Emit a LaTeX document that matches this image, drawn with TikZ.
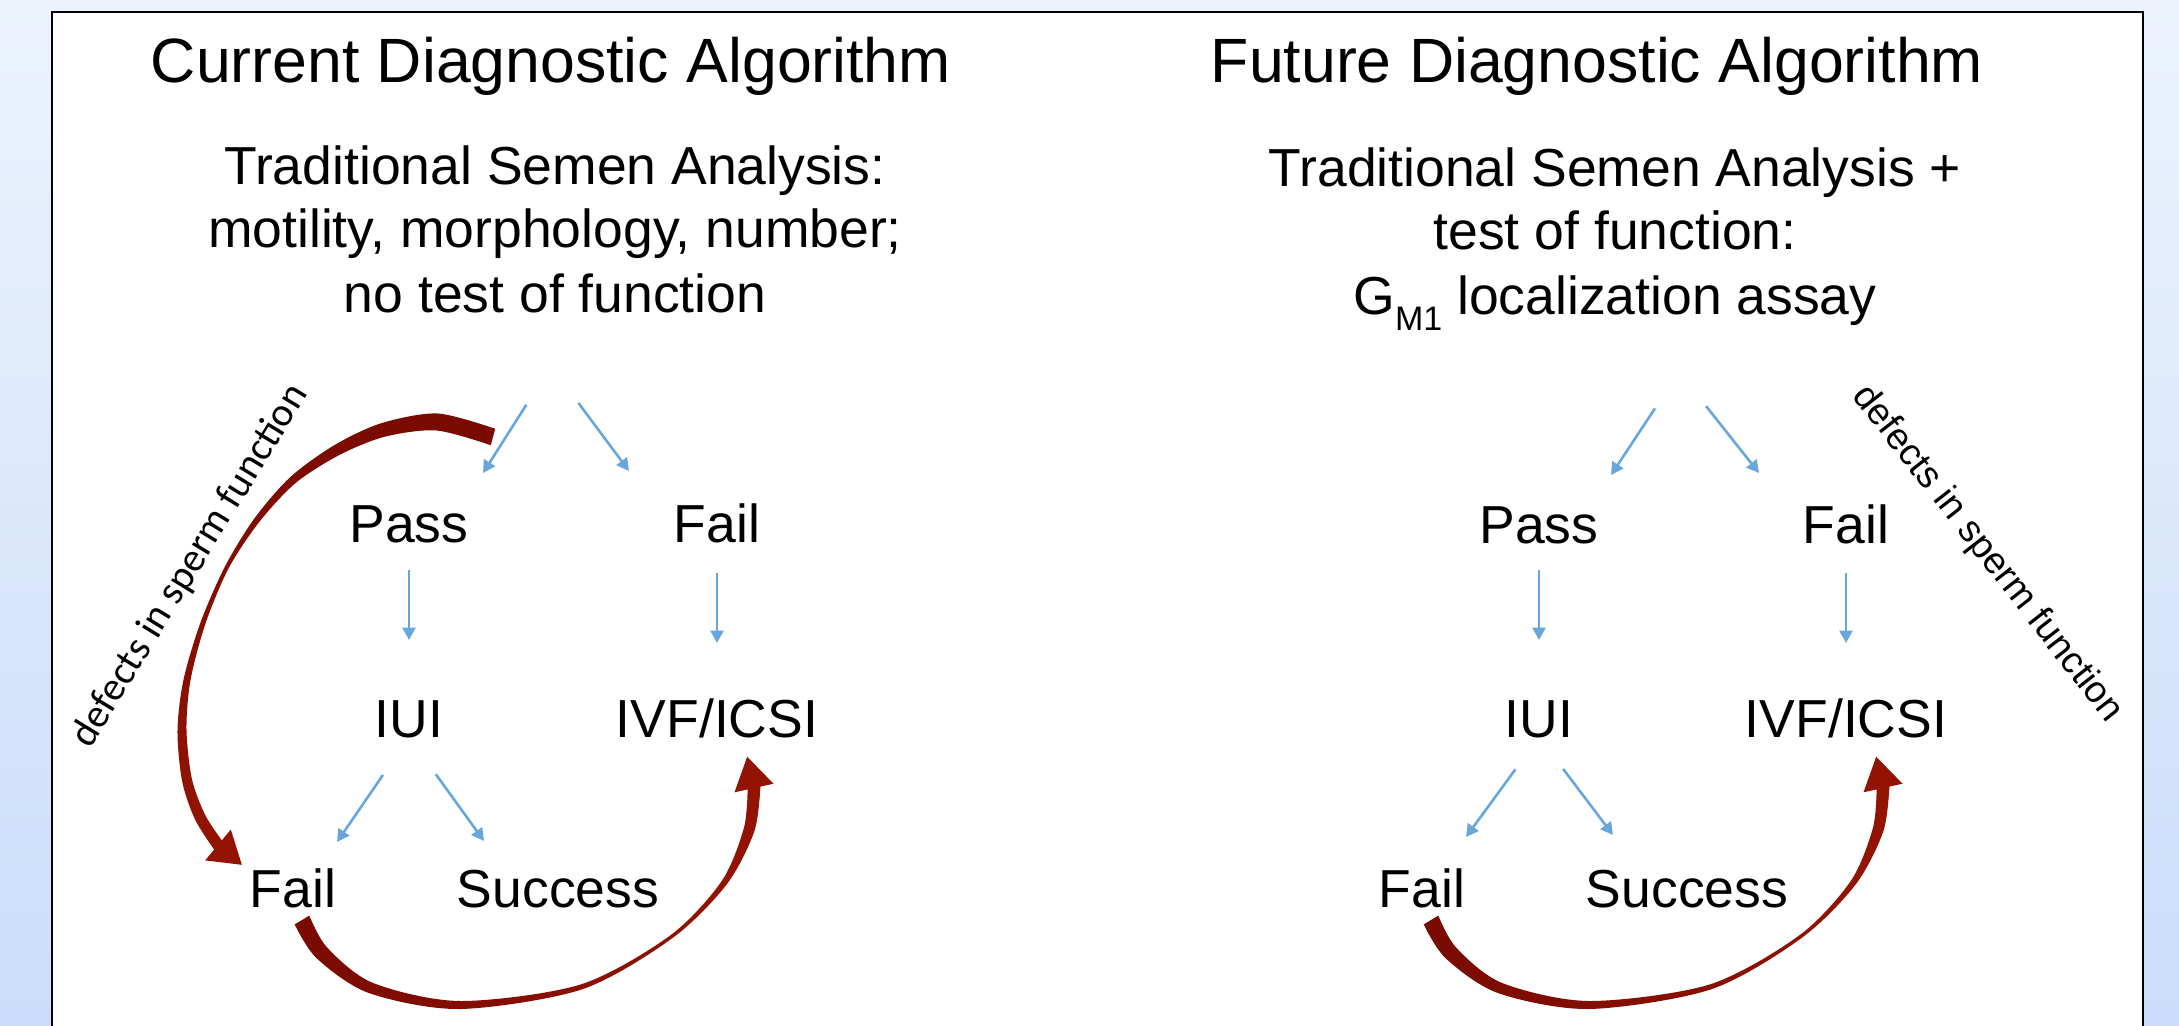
\documentclass[tikz,border=0pt]{standalone}
\usepackage{fontspec}
\setmainfont{Liberation Sans}
\newfontfamily\calibfont{Carlito}
\usetikzlibrary{arrows.meta}
\definecolor{bgtop}{RGB}{236,243,253}
\definecolor{bgbot}{RGB}{202,221,250}
\definecolor{arrowblue}{RGB}{104,166,222}
\definecolor{redA}{RGB}{122,10,0}
\definecolor{redB}{RGB}{148,20,2}
\newcommand{\failivfshape}{%
  \shade[left color=redA, right color=redB] plot[smooth] coordinates {(294.7,924.4) (316.7,958.3) (369.1,993.1) (460,1009) (581.8,989.4) (672,938.4) (726.4,884.8) (754.2,831.7) (760.4,786.6)}
    -- (773.5,783.7) -- (747.2,756.7) -- (734.5,792.3)
    -- plot[smooth] coordinates {(747.6,789.4) (743.8,828.3) (721.6,881.2) (670,935.6) (580.2,984.6) (460,1001) (372.9,982.9) (327.3,947.7) (309.3,915.6)}
    -- cycle;}
\begin{document}
\begin{tikzpicture}[x=0.5pt,y=-0.5pt,
  titletext/.style={anchor=base, inner sep=0pt, font=\fontsize{31.3pt}{37pt}\selectfont},
  bodytext/.style={anchor=base, inner sep=0pt, font=\fontsize{26.75pt}{32pt}\selectfont},
  bluearrow/.style={draw=arrowblue, line width=1.3pt, -{Triangle[length=6.2pt,width=6.5pt]}},
  sidenote/.style={inner sep=0pt}]

\useasboundingbox (0,0) rectangle (2179,1026);
\clip (0,0) rectangle (2179,1026);
\shade[top color=bgtop, bottom color=bgbot] (0,0) rectangle (2179,1026);
\draw[fill=white, line width=1pt] (52,12) rectangle (2143,1060);

% ---------- left panel ----------
\node[titletext] (title1) at (551,83) {Current Diagnostic Algorithm};
\node[bodytext] (sub1a) at (555,185) {Traditional Semen Analysis:};
\node[bodytext] (sub1b) at (555,248) {motility, morphology, number;};
\node[bodytext] (sub1c) at (555,313) {no test of function};

\node[bodytext] (pass1) at (409,542) {Pass};
\node[bodytext] (fail1) at (717,542) {Fail};
\node[bodytext] (iui1) at (409,737) {IUI};
\node[bodytext] (ivf1) at (717,737) {IVF/ICSI};
\node[bodytext] (failb1) at (293,907) {Fail};
\node[bodytext] (succ1) at (558,907) {Success};

\coordinate (apex1) at (551,366);
\coordinate (t1pass) at (483,473);
\coordinate (t1fail) at (629,471);
\coordinate (t1ffail) at (337,842);
\coordinate (t1succ) at (484,841);

\draw[bluearrow, shorten <=23pt] (apex1) -- (t1pass);
\draw[bluearrow, shorten <=23pt] (apex1) -- (t1fail);
\draw[bluearrow, shorten <=14pt, shorten >=48.5pt] (pass1.base) -- (iui1.base);
\draw[bluearrow, shorten <=15.5pt, shorten >=47pt] (fail1.base) -- (ivf1.base);
\draw[bluearrow, shorten <=23pt] (iui1.base) -- (t1ffail);
\draw[bluearrow, shorten <=23pt] (iui1.base) -- (t1succ);

% defects arrow (left)
\shade[top color=redA, bottom color=redB] plot[smooth] coordinates {(495.2,428.8) (437.5,413.5) (381.1,423.3) (334.3,445.2) (290.4,477) (254.6,518.2) (225.2,566.1) (200.6,622.2) (183.6,679.3) (177.5,730) (182.1,781) (195,819.4) (214.2,849.6)}
  -- (205.2,860.4) -- (241.9,864.8) -- (230.8,829.6)
  -- plot[smooth] coordinates {(221.8,840.4) (205,814.6) (191.9,779) (186.5,730) (190.4,680.7) (205.4,623.8) (228.8,567.9) (259.4,521.8) (295.6,483) (339.7,454.8) (384.9,436.7) (436.5,430.5) (490.8,445.2)}
  -- cycle;
\node[sidenote, rotate=58.5, font=\calibfont\fontsize{20.2pt}{24pt}\selectfont] (defl) at (190,566) {defects in sperm function};

% Fail -> IVF/ICSI arrow (left)
\failivfshape

% ---------- right panel ----------
\node[titletext] (title2) at (1597,83) {Future Diagnostic Algorithm};
\node[bodytext] (sub2a) at (1615,187) {Traditional Semen Analysis +};
\node[bodytext] (sub2b) at (1615,250) {test of function:};
\node[bodytext] (sub2c) at (1615,315) {G\raisebox{-8pt}{\fontsize{17pt}{17pt}\selectfont M1} localization assay};

\node[bodytext] (pass2) at (1539,543) {Pass};
\node[bodytext] (fail2) at (1846,543) {Fail};
\node[bodytext] (iui2) at (1539,737) {IUI};
\node[bodytext] (ivf2) at (1846,737) {IVF/ICSI};
\node[bodytext] (failb2) at (1422,907) {Fail};
\node[bodytext] (succ2) at (1687,907) {Success};

\coordinate (apex2) at (1679,372);
\coordinate (t2pass) at (1611,475);
\coordinate (t2fail) at (1759,473);
\coordinate (t2ffail) at (1466,837);
\coordinate (t2succ) at (1613,835);

\draw[bluearrow, shorten <=21.75pt] (apex2) -- (t2pass);
\draw[bluearrow, shorten <=21.75pt] (apex2) -- (t2fail);
\draw[bluearrow, shorten <=13.5pt, shorten >=48.5pt] (pass2.base) -- (iui2.base);
\draw[bluearrow, shorten <=15pt, shorten >=47pt] (fail2.base) -- (ivf2.base);
\draw[bluearrow, shorten <=20pt] (iui2.base) -- (t2ffail);
\draw[bluearrow, shorten <=20pt] (iui2.base) -- (t2succ);

\node[sidenote, rotate=-52, font=\fontsize{18.7pt}{22pt}\selectfont] (defr) at (1987,554) {defects in sperm function};

\begin{scope}[shift={(1129,0)}]
\failivfshape
\end{scope}
\end{tikzpicture}
\end{document}
